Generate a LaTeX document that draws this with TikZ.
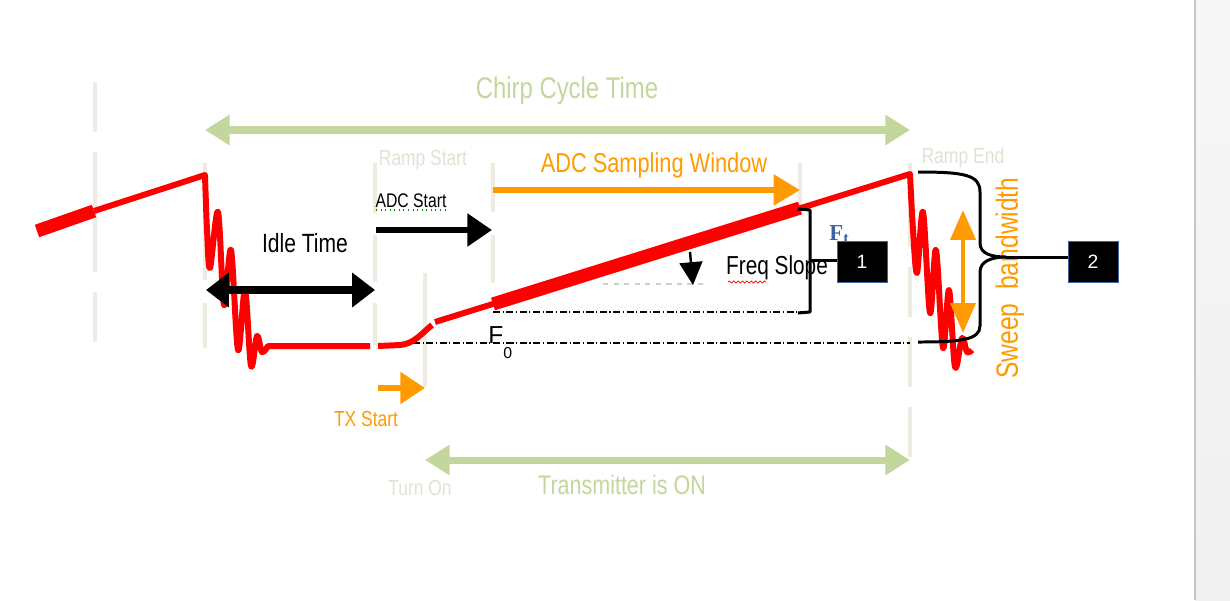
\documentclass[tikz,border=0pt]{standalone}
\usepackage{fontspec}
\setmainfont{Liberation Sans}
\newfontfamily\serifbf{Liberation Serif}
\usepackage{graphicx}
\usetikzlibrary{arrows.meta,decorations.pathmorphing}
\definecolor{guide}{HTML}{EEECE1}
\definecolor{faint}{HTML}{E4E1D4}
\definecolor{leaf}{HTML}{C3D69B}
\definecolor{amber}{HTML}{FF9A00}
\definecolor{steel}{HTML}{3E64A0}
\newcommand{\nar}[1]{\scalebox{0.8}[1]{#1}}
\newcommand{\fsz}[1]{\fontsize{#1}{#1}\selectfont}

\begin{document}
\begin{tikzpicture}[x=0.02cm, y=-0.02cm,
  guideline/.style={guide, line width=2.4pt},
  chirp/.style={red, line width=3.4pt, line join=round},
  wide/.style={red, line width=7.5pt},
  grnarrow/.style={leaf, line width=4pt, {Triangle[length=14pt,width=16.5pt]}-{Triangle[length=14pt,width=16.5pt]}},
  amberarrow/.style={amber, line width=3.4pt, -{Triangle[length=15pt,width=17pt]}},
  blkarrow/.style={black, line width=3.6pt, -{Triangle[length=14pt,width=18pt]}},
  brk/.style={black, line width=1.7pt, line join=round},
  refline/.style={black, line width=0.6pt, dash pattern=on 4pt off 1.5pt on 0.6pt off 1.5pt},
  lbl/.style={inner sep=0pt, font=\fsz{15}},
  numbox/.style={fill=black, draw=steel, line width=0.5pt, text=white, minimum width=1cm,
    minimum height=0.82cm, inner sep=0pt, font=\fsz{11}}]
  \useasboundingbox (0,0) rectangle (1230,600);
  % page edge on the right
  \shade[top color=white!97!black, bottom color=white!94!black] (1195,0) rectangle (1230,600);
  \draw[black!22, line width=0.6pt] (1195,0) -- (1195,600);

  % timing guides
  \foreach \x/\a/\b in {95/82/132, 95/152/272, 95/292/342, 205/163/280, 205/303/348,
      375/163/213, 375/235/282, 375/303/345, 425/273/387, 493/163/212, 493/235/283,
      800/163/207, 910/163/247, 910/267/317, 910/337/387, 910/407/457}
    \draw[guideline] (\x,\a) -- (\x,\b);

  % reference levels
  \draw[refline] (413,343) -- (910,343);
  \draw[refline] (493,312) -- (806,312);
  \draw[faint!80!gray, dashed, line width=0.8pt] (603,284) -- (705,284);

  % chirp
  \draw[wide] (37,231) -- (94,211);
  \draw[chirp] (94,211) -- (205,175) -- plot[smooth, tension=0.55] coordinates {(205,175) (207,230)
    (210,268) (218,212) (224,305) (231,250) (238,350) (245,290) (251,366) (257,336) (262,352) (268,346)}
    -- (370,346);
  \draw[chirp] (378,346) -- (400,345) .. controls (414,344) and (422,333) .. (432,325);
  \draw[chirp] (435,322) -- (910,174) -- plot[smooth, tension=0.55] coordinates {(910,174) (913,230)
    (917,273) (923,212) (930,313) (936,250) (943,348) (949,290) (955,367) (962,338) (967,352) (972,350)};
  \draw[wide] (493,304) -- (800,208);

  % labels
  \node[lbl, leaf, font=\fsz{17}] (cyc) at (567,91) {\nar{Chirp Cycle Time}};
  \node[lbl, faint, font=\fsz{12.4}] (rstart) at (423,160) {\nar{Ramp Start}};
  \node[lbl, faint, font=\fsz{12.5}] (rend) at (963,158) {\nar{Ramp End}};
  \node[lbl, amber, font=\fsz{15.5}] (win) at (654,165) {\nar{ADC Sampling Window}};
  \node[lbl, font=\fsz{11.2}] (adc) at (411,201) {\nar{ADC Start}};
  \node[lbl] (idle) at (305,243) {\nar{Idle Time}};
  \node[lbl, font=\fsz{14.8}] (slope) at (777,268) {\nar{Freq Slope}};
  \node[lbl, amber, font=\fsz{12.4}] (tx) at (366,419) {\nar{TX Start}};
  \node[lbl, faint, font=\fsz{12.4}] (turn) at (420,488) {\nar{Turn On}};
  \node[lbl, leaf, font=\fsz{15.3}] (txon) at (622,485) {\nar{Transmitter is ON}};
  \node[lbl, amber, rotate=90, font=\fsz{17.5}] (sweep) at (1010,278) {\nar{Sweep\ \ bandwidth}};
  \node[lbl, anchor=north west, font=\fsz{14}] (fzero) at (488,326) {F\raisebox{-1.2ex}{\fsz{9}0}};
  \node[lbl, steel, anchor=north west, font=\serifbf\bfseries\fsz{13}] (ft) at (829,225) {F\textsubscript{t}};
  \draw[green!55!black, dotted, line width=0.6pt] (376,210) -- (447,210);
  \draw[red, line width=0.4pt, decorate, decoration={snake, amplitude=0.6pt, segment length=2.5pt}]
    (728,282) -- (766,282);

  % callouts
  \node[numbox] (one) at (862,262) {1};
  \node[numbox] (two) at (1093,262) {2};
  \coordinate (brkmid) at (810,260);
  \coordinate (bracetip) at (1006,257);
  \draw[brk] (798,209) -- (810,210) -- (810,312) -- (798,313);
  \draw[brk] (brkmid) -- (brkmid -| one.west);
  \draw[brk] (918,172) .. controls (965,172) and (980,175) .. (980,192) -- (980,243)
    .. controls (980,254) and (992,257) .. (bracetip) .. controls (992,257) and (980,261) .. (980,272)
    -- (980,326) .. controls (980,340) and (960,342) .. (918,342);
  \draw[brk] (bracetip) -- (bracetip -| two.west);

  % time spans
  \coordinate (cycA) at (205,130);  \coordinate (cycB) at (910,130);
  \coordinate (txA) at (425,460);   \coordinate (txB) at (910,460);
  \coordinate (winA) at (493,190);  \coordinate (winB) at (800,190);
  \coordinate (adcA) at (376,230);  \coordinate (adcB) at (492,230);
  \coordinate (idleA) at (206,290); \coordinate (idleB) at (375,290);
  \coordinate (tsA) at (378,388);   \coordinate (tsB) at (425,388);
  \coordinate (swA) at (963,333);   \coordinate (swB) at (963,210);
  \coordinate (slA) at (690,252);   \coordinate (slB) at (693,285);
  \draw[grnarrow] (cycA) -- (cycB);
  \draw[grnarrow] (txA) -- (txB);
  \draw[amberarrow] (winA) -- (winB);
  \draw[amberarrow, line width=3.2pt, -{Triangle[length=14pt,width=17.5pt]}] (tsA) -- (tsB);
  \draw[amberarrow, line width=2.8pt, {Triangle[length=17pt,width=14pt]}-{Triangle[length=17pt,width=14pt]}] (swA) -- (swB);
  \draw[blkarrow] (adcA) -- (adcB);
  \draw[blkarrow, line width=4pt, {Triangle[length=13pt,width=19pt]}-{Triangle[length=13pt,width=19pt]}] (idleA) -- (idleB);
  \draw[blkarrow, line width=1.4pt, -{Triangle[length=13pt,width=13pt]}] (slA) -- (slB);
\end{tikzpicture}
\end{document}
